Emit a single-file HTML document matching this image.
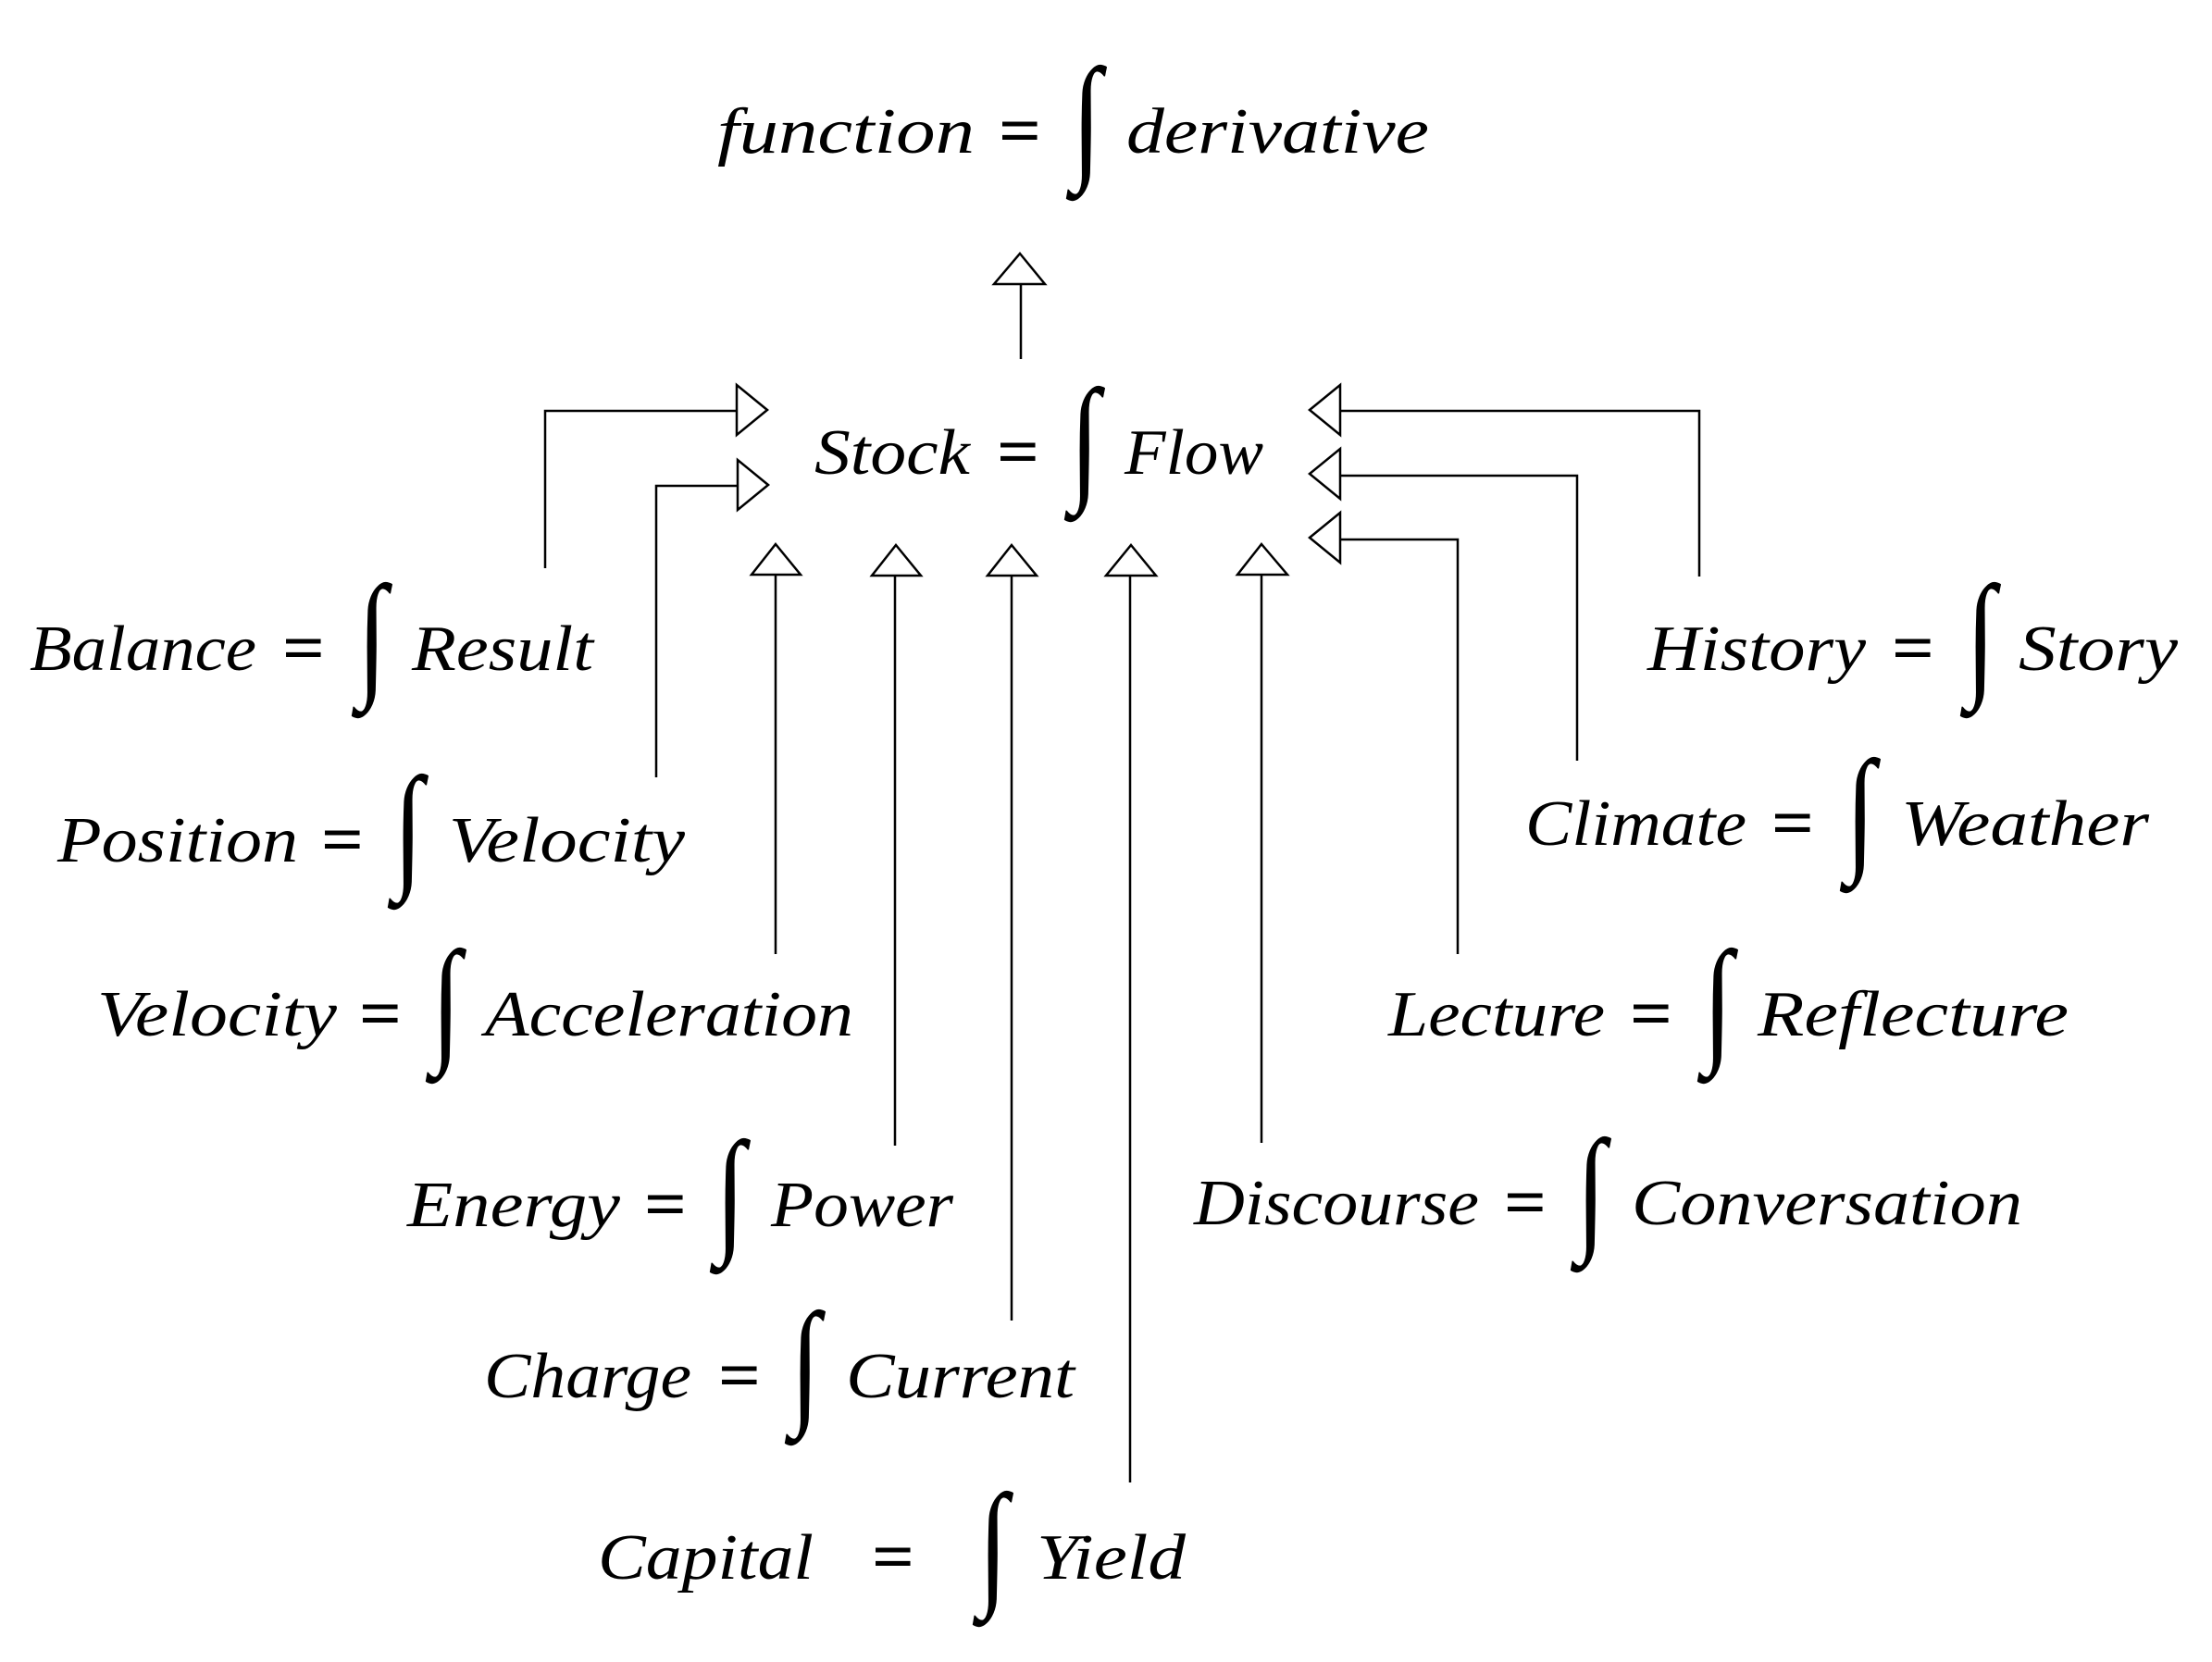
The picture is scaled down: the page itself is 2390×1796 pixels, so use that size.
<!DOCTYPE html>
<html>
<head>
<meta charset="utf-8">
<style>
html,body{margin:0;padding:0;background:#fff;}
svg{display:block;}
.t{font-family:"Liberation Serif","DejaVu Serif",serif;font-style:italic;font-size:70px;fill:#000;}
.e{font-family:"Liberation Serif","DejaVu Serif",serif;font-size:72px;font-weight:bold;fill:#000;}
.i{font-family:"Liberation Serif","DejaVu Serif",serif;font-size:150px;fill:#000;}
.ln{stroke:#000;stroke-width:2.5;fill:none;}
.ar{stroke:#000;stroke-width:2.5;fill:#fff;stroke-linejoin:miter;}
</style>
</head>
<body>
<svg width="2390" height="1796" viewBox="0 0 2390 1796" xmlns="http://www.w3.org/2000/svg">
<rect width="2390" height="1796" fill="#fff"/>

<!-- connectors -->
<line class="ln" x1="1103" y1="388" x2="1103" y2="307"/>
<polygon class="ar" points="1102,274 1129,307 1074,307"/>

<polyline class="ln" points="589,614 589,444 796,444"/>
<polygon class="ar" points="829,443 796,416 796,470"/>
<polyline class="ln" points="709,840 709,525 796,525"/>
<polygon class="ar" points="830,524 797,497 797,551"/>

<line class="ln" x1="838" y1="1031" x2="838" y2="621"/>
<polygon class="ar" points="838,588 865,621 812,621"/>
<line class="ln" x1="967" y1="1238" x2="967" y2="621"/>
<polygon class="ar" points="968,589 995,622 942,622"/>
<line class="ln" x1="1093" y1="1427" x2="1093" y2="621"/>
<polygon class="ar" points="1093,589 1120,622 1067,622"/>
<line class="ln" x1="1221" y1="1602" x2="1221" y2="621"/>
<polygon class="ar" points="1222,589 1249,622 1195,622"/>
<line class="ln" x1="1363" y1="1235" x2="1363" y2="621"/>
<polygon class="ar" points="1363,588 1391,621 1337,621"/>

<polyline class="ln" points="1836,623 1836,444 1448,444"/>
<polygon class="ar" points="1415,443 1448,416 1448,470"/>
<polyline class="ln" points="1704,822 1704,514 1448,514"/>
<polygon class="ar" points="1415,512 1448,485 1448,539"/>
<polyline class="ln" points="1575,1031 1575,583 1448,583"/>
<polygon class="ar" points="1415,581 1448,554 1448,608"/>

<!-- function -->
<text class="t" x="775" y="165" textLength="278" lengthAdjust="spacingAndGlyphs">function</text>
<text class="e" x="1079" y="165" textLength="46" lengthAdjust="spacingAndGlyphs">=</text>
<text class="i" transform="translate(1174,177) scale(0.78,1)" text-anchor="middle">∫</text>
<text class="t" x="1217" y="165" textLength="327" lengthAdjust="spacingAndGlyphs">derivative</text>

<!-- Stock -->
<text class="t" x="880" y="512" textLength="168" lengthAdjust="spacingAndGlyphs">Stock</text>
<text class="e" x="1077" y="512" textLength="46" lengthAdjust="spacingAndGlyphs">=</text>
<text class="i" transform="translate(1172,524) scale(0.78,1)" text-anchor="middle">∫</text>
<text class="t" x="1215" y="512" textLength="150" lengthAdjust="spacingAndGlyphs">Flow</text>

<!-- Balance -->
<text class="t" x="32" y="724" textLength="245" lengthAdjust="spacingAndGlyphs">Balance</text>
<text class="e" x="305" y="724" textLength="46" lengthAdjust="spacingAndGlyphs">=</text>
<text class="i" transform="translate(402,736) scale(0.78,1)" text-anchor="middle">∫</text>
<text class="t" x="445" y="724" textLength="196" lengthAdjust="spacingAndGlyphs">Result</text>

<!-- Position -->
<text class="t" x="62" y="931" textLength="260" lengthAdjust="spacingAndGlyphs">Position</text>
<text class="e" x="347" y="931" textLength="46" lengthAdjust="spacingAndGlyphs">=</text>
<text class="i" transform="translate(441,943) scale(0.78,1)" text-anchor="middle">∫</text>
<text class="t" x="485" y="931" textLength="255" lengthAdjust="spacingAndGlyphs">Velocity</text>

<!-- Velocity -->
<text class="t" x="105" y="1119" textLength="259" lengthAdjust="spacingAndGlyphs">Velocity</text>
<text class="e" x="388" y="1119" textLength="46" lengthAdjust="spacingAndGlyphs">=</text>
<text class="i" transform="translate(482,1131) scale(0.78,1)" text-anchor="middle">∫</text>
<text class="t" x="524" y="1119" textLength="398" lengthAdjust="spacingAndGlyphs">Acceleration</text>

<!-- Energy -->
<text class="t" x="440" y="1325" textLength="230" lengthAdjust="spacingAndGlyphs">Energy</text>
<text class="e" x="696" y="1325" textLength="46" lengthAdjust="spacingAndGlyphs">=</text>
<text class="i" transform="translate(789,1337) scale(0.78,1)" text-anchor="middle">∫</text>
<text class="t" x="833" y="1325" textLength="197" lengthAdjust="spacingAndGlyphs">Power</text>

<!-- Charge -->
<text class="t" x="523" y="1510" textLength="224" lengthAdjust="spacingAndGlyphs">Charge</text>
<text class="e" x="776" y="1510" textLength="46" lengthAdjust="spacingAndGlyphs">=</text>
<text class="i" transform="translate(870,1522) scale(0.78,1)" text-anchor="middle">∫</text>
<text class="t" x="914" y="1510" textLength="247" lengthAdjust="spacingAndGlyphs">Current</text>

<!-- Capital -->
<text class="t" x="646" y="1706" textLength="233" lengthAdjust="spacingAndGlyphs">Capital</text>
<text class="e" x="942" y="1706" textLength="46" lengthAdjust="spacingAndGlyphs">=</text>
<text class="i" transform="translate(1073,1718) scale(0.78,1)" text-anchor="middle">∫</text>
<text class="t" x="1120" y="1706" textLength="161" lengthAdjust="spacingAndGlyphs">Yield</text>

<!-- History -->
<text class="t" x="1780" y="724" textLength="236" lengthAdjust="spacingAndGlyphs">History</text>
<text class="e" x="2044" y="724" textLength="46" lengthAdjust="spacingAndGlyphs">=</text>
<text class="i" transform="translate(2140,736) scale(0.78,1)" text-anchor="middle">∫</text>
<text class="t" x="2181" y="724" textLength="172" lengthAdjust="spacingAndGlyphs">Story</text>

<!-- Climate -->
<text class="t" x="1648" y="913" textLength="239" lengthAdjust="spacingAndGlyphs">Climate</text>
<text class="e" x="1914" y="913" textLength="46" lengthAdjust="spacingAndGlyphs">=</text>
<text class="i" transform="translate(2010,925) scale(0.78,1)" text-anchor="middle">∫</text>
<text class="t" x="2054" y="913" textLength="268" lengthAdjust="spacingAndGlyphs">Weather</text>

<!-- Lecture -->
<text class="t" x="1500" y="1119" textLength="234" lengthAdjust="spacingAndGlyphs">Lecture</text>
<text class="e" x="1761" y="1119" textLength="46" lengthAdjust="spacingAndGlyphs">=</text>
<text class="i" transform="translate(1856,1131) scale(0.78,1)" text-anchor="middle">∫</text>
<text class="t" x="1899" y="1119" textLength="336" lengthAdjust="spacingAndGlyphs">Reflecture</text>

<!-- Discourse -->
<text class="t" x="1290" y="1323" textLength="308" lengthAdjust="spacingAndGlyphs">Discourse</text>
<text class="e" x="1625" y="1323" textLength="46" lengthAdjust="spacingAndGlyphs">=</text>
<text class="i" transform="translate(1719,1335) scale(0.78,1)" text-anchor="middle">∫</text>
<text class="t" x="1763" y="1323" textLength="422" lengthAdjust="spacingAndGlyphs">Conversation</text>
</svg>
</body>
</html>
